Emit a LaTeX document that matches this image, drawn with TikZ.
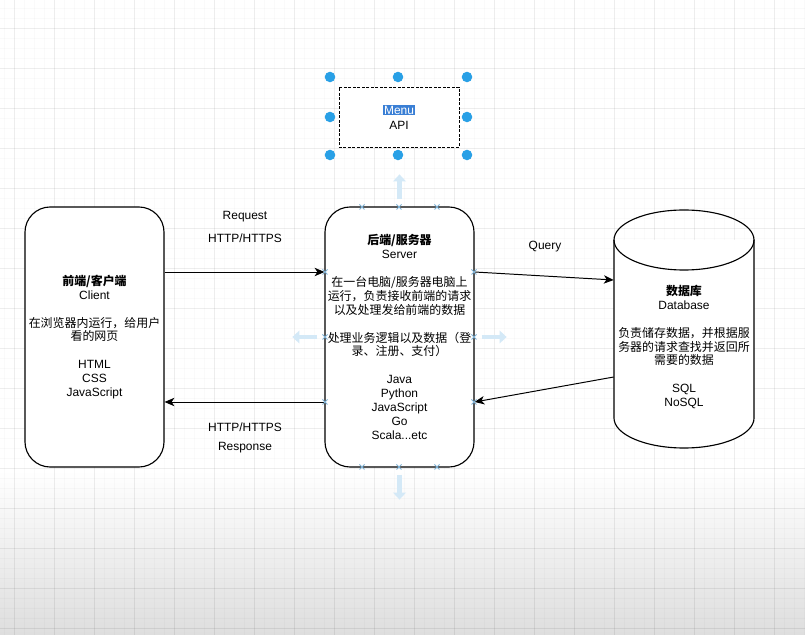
\documentclass[tikz,border=0pt]{standalone}
\usepackage{fontspec}
\setmainfont{Liberation Sans}
\newfontfamily\cjk{Noto Sans CJK SC}
\usepackage{xcolor}
\usetikzlibrary{arrows.meta}
\definecolor{handleblue}{HTML}{29A0E6}
\definecolor{hintblue}{HTML}{D4E9F7}
\definecolor{selblue}{HTML}{3A7FD5}
\definecolor{portblue}{HTML}{7FB2D6}

\begin{document}
\begin{tikzpicture}[
    x=0.025cm, y=-0.025cm,
    font=\fontsize{8.5pt}{9.9pt}\selectfont,
    box/.style={draw, line width=0.8pt, rounded corners=18pt, fill=white,
                align=center, inner sep=0pt, minimum height=6.5cm},
    normal line/.style={-{Stealth[length=7pt,width=6pt,inset=2pt]}, line width=0.7pt},
    descr/.style={inner sep=0pt, align=center},
    handle/.style={circle, fill=handleblue, inner sep=0pt, minimum size=7.5pt},
    hint/.style={hintblue, line width=3pt, -{Triangle[length=5pt,width=9pt]}},
    port/.style={portblue, line width=0.6pt},
    grid minor/.style={black, opacity=0.02, line width=0.4pt},
    grid major/.style={black, opacity=0.05, line width=0.4pt}
    ]
\useasboundingbox (0,0) rectangle (805,635);
% canvas
\fill[white] (0,0) rectangle (805,635);
\shade[top color=white, bottom color=black!13] (0,470) rectangle (805,635);
\foreach \gx in {4,14,...,804} \draw[grid minor] (\gx,0) -- (\gx,635);
\foreach \gy in {8,18,...,634} \draw[grid minor] (0,\gy) -- (805,\gy);
\foreach \gx in {14,54,...,804} \draw[grid major] (\gx,0) -- (\gx,635);
\foreach \gy in {28,68,...,634} \draw[grid major] (0,\gy) -- (805,\gy);

% database cylinder
\filldraw[fill=white, line width=0.8pt] (614,240) -- (614,418)
    arc[start angle=180, end angle=360, x radius=1.75cm, y radius=0.75cm] -- (754,240);
\draw[line width=0.8pt] (684,240) ellipse [x radius=1.75cm, y radius=0.75cm];
\node[minimum width=3.5cm, minimum height=5.95cm, inner sep=0pt] (db) at (684,329) {};

% boxes
\node[box, minimum width=3.475cm] (client) at (94.5,337)
    {{\bfseries\cjk 前端/客户端}\\Client\\[9.9pt]{\cjk 在浏览器内运行，给用户}\\{\cjk 看的网页}\\[9.9pt]HTML\\CSS\\JavaScript};
\node[box, minimum width=3.725cm] (server) at (399.5,337)
    {{\bfseries\cjk 后端/服务器}\\Server\\[9.9pt]{\cjk 在一台电脑/服务器电脑上}\\{\cjk 运行，负责接收前端的请求}\\{\cjk 以及处理发给前端的数据}\\[9.9pt]{\cjk 处理业务逻辑以及数据（登}\\{\cjk 录、注册、支付）}\\[9.9pt]Java\\Python\\JavaScript\\Go\\Scala...etc};
\node[descr] (dbtext) at (684,347)
    {{\bfseries\cjk 数据库}\\Database\\[9.9pt]{\cjk 负责储存数据，并根据服}\\{\cjk 务器的请求查找并返回所}\\{\cjk 需要的数据}\\[9.9pt]SQL\\NoSQL};

% selected menu box
\node[draw, dash pattern=on 2pt off 1.2pt, line width=0.5pt, fill=white,
      minimum width=3cm, minimum height=1.5cm] (menu) at (399,117) {};
\node[fill=selblue, text=white, inner sep=0.8pt] (menuname) at (399,110) {Menu};
\node[descr] (api) at (399,125) {API};
\foreach \hx/\hy in {330/77,398/77,467/77,330/117,467/117,330/155,398/155,467/155}
    \node[handle] (h-\hx-\hy) at (\hx,\hy) {};

% connectors
\draw[normal line] (client.east |- 0,272) -- (server.west |- 0,272);
\draw[normal line] (server.west |- 0,402) -- (client.east |- 0,402);
\draw[normal line] (server.east |- 0,272) -- (db.west |- 0,280);
\draw[normal line] (db.west |- 0,377) -- (server.east |- 0,402);

\node[descr] (request) at (245,217) {Request};
\node[descr] (reqproto) at (245,238) {HTTP/HTTPS};
\node[descr] (query) at (545,247) {Query};
\node[descr] (resproto) at (245,427) {HTTP/HTTPS};
\node[descr] (response) at (245,448) {Response};

% hover hints round the server
\draw[hint] (server.north) ++(0,-7) -- ++(0,-25);
\draw[hint] (server.south) ++(0,7) -- ++(0,25);
\draw[hint] (server.west) ++(-7,0) -- ++(-25,0);
\draw[hint] (server.east) ++(7,0) -- ++(25,0);
\foreach \px/\py in {362/207,399/207,437/207,362/467,399/467,437/467,
                     325/272,325/337,325/402,474/272,474/337,474/402}
    \draw[port] (\px-2.5,\py-2.5) -- (\px+2.5,\py+2.5) (\px-2.5,\py+2.5) -- (\px+2.5,\py-2.5);
\end{tikzpicture}
\end{document}
